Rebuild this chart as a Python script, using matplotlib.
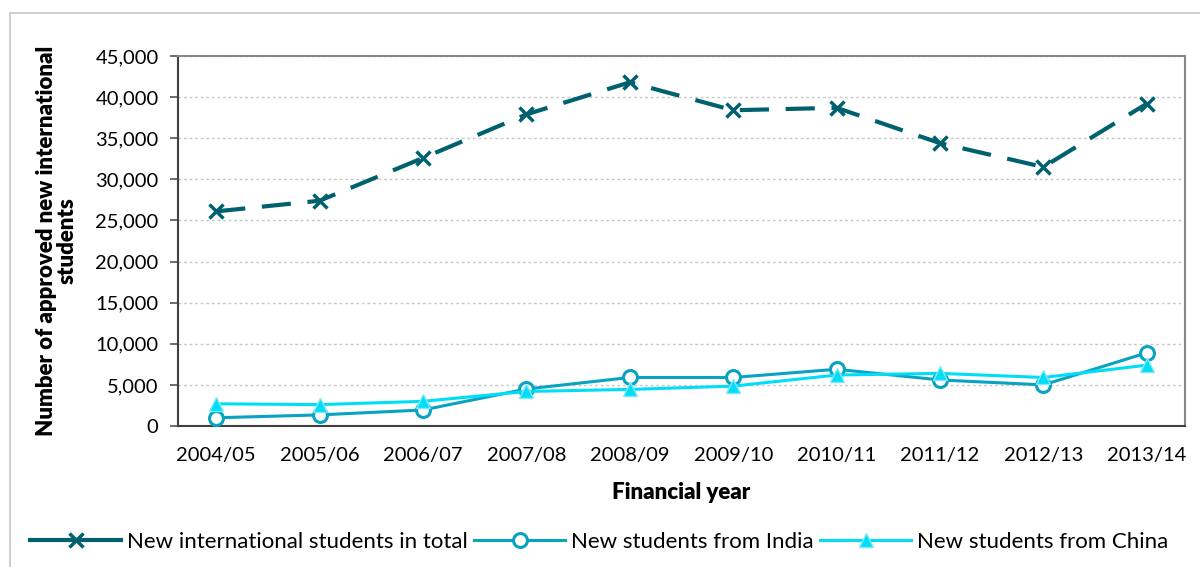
import matplotlib
matplotlib.use("Agg")
import matplotlib.pyplot as plt
from matplotlib.lines import Line2D
from matplotlib.patches import Rectangle
from matplotlib.ticker import FuncFormatter

years = ["2004/05", "2005/06", "2006/07", "2007/08", "2008/09",
         "2009/10", "2010/11", "2011/12", "2012/13", "2013/14"]
total = [26100, 27400, 32600, 37900, 41800, 38400, 38700, 34400, 31500, 39200]
india = [1000, 1350, 1950, 4500, 5900, 5900, 6900, 5600, 5000, 8900]
china = [2700, 2600, 3000, 4200, 4450, 4850, 6200, 6400, 5900, 7400]

labels = ["New international students in total", "New students from India",
          "New students from China"]

c_total = "#00616E"
c_india = "#08A3C2"
c_china = "#00DDF7"

plt.rcParams['font.family'] = ['Lato', 'DejaVu Sans']

fig = plt.figure(figsize=(12, 5.67), dpi=100)
ax = fig.add_axes([178/1200, 1-426/567, (1185-178)/1200, (426-56)/567])

x = list(range(len(years)))
ax.plot(x, total, color=c_total, lw=3, dashes=(7, 4), marker='x', ms=10, mew=2.5,
        zorder=3)
ax.plot(x, india, color=c_india, lw=2.2, marker='o', ms=10, mfc='white', mec=c_india,
        mew=2.2, zorder=4)
ax.plot(x, china, color=c_china, lw=2.2, marker='^', ms=10, mfc=c_china, mec='#7FE9F9',
        mew=1, zorder=5)

ax.set_xlim(-0.37, 9.37)
ax.set_ylim(0, 45000)
ax.set_yticks(range(0, 45001, 5000))
ax.yaxis.set_major_formatter(FuncFormatter(lambda v, p: f"{int(v):,}"))
ax.set_xticks(x)
ax.set_xticklabels(years)
ax.tick_params(axis='x', length=0, pad=15, labelsize=14.5)
ax.tick_params(axis='y', length=6, width=1.2, color='#555555', labelsize=14.5, pad=8)
ax.grid(axis='y', linestyle=(0, (2, 2)), color='#C8C8C8', lw=1)
ax.set_axisbelow(True)
for s in ['top', 'right']:
    ax.spines[s].set_color('#888888')
    ax.spines[s].set_linewidth(1.5)
for s in ['left', 'bottom']:
    ax.spines[s].set_color('#404040')
    ax.spines[s].set_linewidth(1.5)

ax.set_xlabel("Financial year", fontsize=16, fontweight='heavy', labelpad=13)
ax.set_ylabel("Number of approved new international\nstudents", fontsize=16,
              fontweight='heavy', labelpad=13, linespacing=0.95)

handles = [
    Line2D([0], [0], color=c_total, lw=3, marker='x', ms=10, mew=2.5),
    Line2D([0], [0], color=c_india, lw=2.2, marker='o', ms=10, mfc='white', mec=c_india, mew=2.2),
    Line2D([0], [0], color=c_china, lw=2.2, marker='^', ms=10, mfc=c_china, mec='#7FE9F9', mew=1),
]
fig.legend(handles, labels, loc='center', bbox_to_anchor=(599/1200, 1-542/567), ncol=3,
           frameon=False, fontsize=16, handlelength=4.1, columnspacing=0.3,
           handletextpad=0.25)

fig.patches.append(Rectangle((10/1200, -0.1), 1.2, 1-13/567+0.1, transform=fig.transFigure,
                             fill=False, edgecolor='#C8C8C8', lw=1.2))

fig.savefig("out.png", dpi=100)
